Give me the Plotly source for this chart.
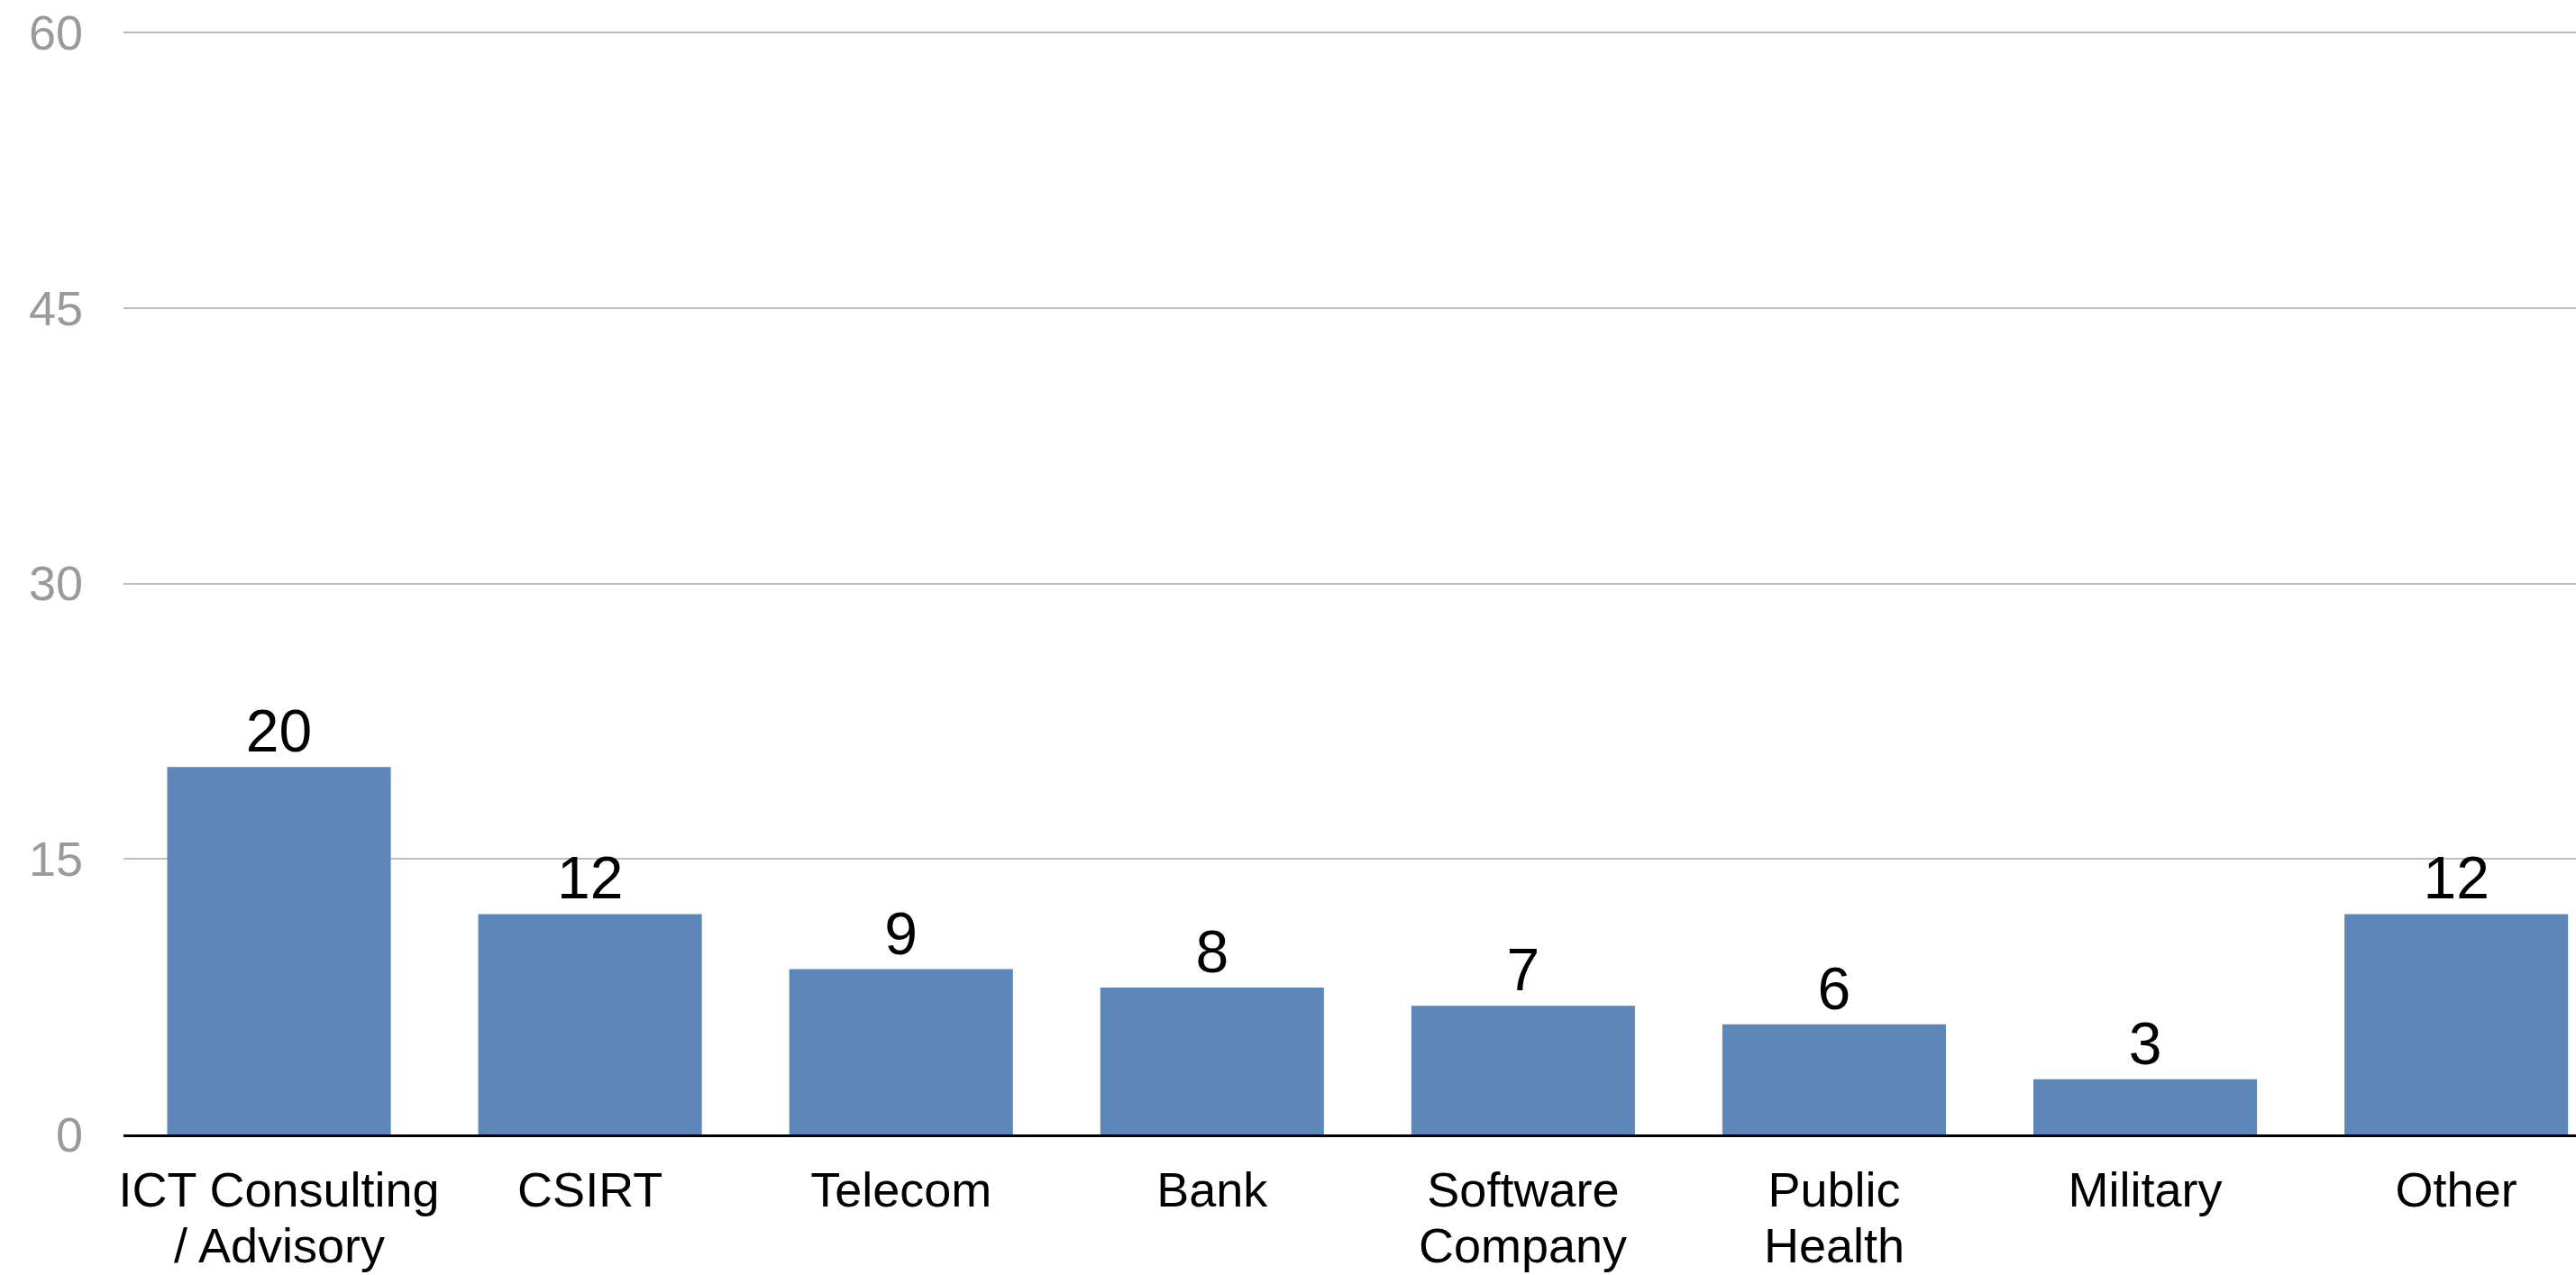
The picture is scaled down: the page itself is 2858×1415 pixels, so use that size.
import plotly.graph_objects as go

# Respondents by sector (label split into its two printed lines)
label_top = [
    "ICT Consulting",
    "CSIRT",
    "Telecom",
    "Bank",
    "Software",
    "Public",
    "Military",
    "Other",
]
label_bottom = ["/ Advisory", "", "", "", "Company", "Health", "", ""]
counts = [20, 12, 9, 8, 7, 6, 3, 12]
y_ticks = [0, 15, 30, 45, 60]

FONT = "Liberation Sans, Helvetica, Arial, sans-serif"
BAR_COLOR = "#5E87B9"
positions = list(range(len(counts)))

fig = go.Figure(
    go.Bar(
        x=positions,
        y=counts,
        text=[str(v) for v in counts],
        textposition="outside",
        textfont=dict(family=FONT, size=66, color="#000000"),
        marker=dict(color=BAR_COLOR, line=dict(width=0)),
        cliponaxis=False,
        hoverinfo="skip",
    )
)

# second line of the category labels, set tighter than the default line height
for pos, txt in zip(positions, label_bottom):
    if txt:
        fig.add_annotation(
            x=pos,
            xref="x",
            y=0,
            yref="paper",
            text=txt,
            showarrow=False,
            xanchor="center",
            yanchor="top",
            yshift=-91,
            font=dict(family=FONT, size=54, color="#000000"),
        )

fig.update_layout(
    width=2858,
    height=1415,
    margin=dict(l=137, r=0, t=35, b=156, pad=0, autoexpand=False),
    paper_bgcolor="#FFFFFF",
    plot_bgcolor="#FFFFFF",
    showlegend=False,
    bargap=0.281,
    font=dict(family=FONT),
)

fig.update_xaxes(
    range=[-0.5, 7.385],
    tickmode="array",
    tickvals=positions,
    ticktext=label_top,
    tickfont=dict(family=FONT, size=54, color="#000000"),
    showgrid=False,
    zeroline=False,
    showline=True,
    linecolor="#000000",
    linewidth=3,
    ticks="",
    ticklabelstandoff=12,
    automargin=False,
    fixedrange=True,
)

fig.update_yaxes(
    range=[0, 60.05],
    tickmode="array",
    tickvals=y_ticks,
    ticktext=[str(v) for v in y_ticks],
    tickfont=dict(family=FONT, size=54, color="#9A9A9A"),
    showgrid=True,
    gridcolor="#BDBDBD",
    gridwidth=2,
    zeroline=False,
    showline=False,
    ticks="",
    ticklabelstandoff=44,
    automargin=False,
    fixedrange=True,
)

fig.write_html("out.html")
